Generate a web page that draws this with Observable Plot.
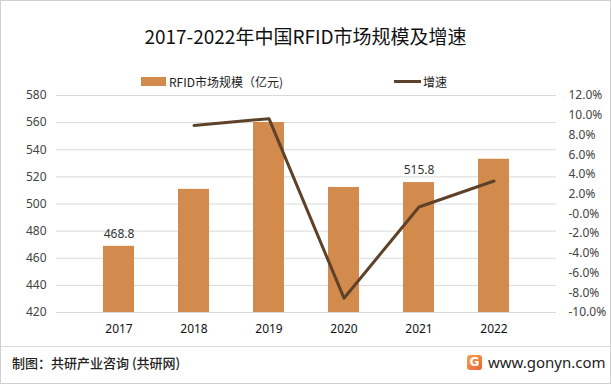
<!DOCTYPE html>
<html><head><meta charset="utf-8">
<script src="https://cdn.jsdelivr.net/npm/d3@7"></script>
<script src="https://cdn.jsdelivr.net/npm/@observablehq/plot@0.6"></script>
<style>
body{margin:0;background:#fff;}
#wrap{position:relative;width:609px;height:382px;border:1px solid #d0d0d0;font-family:"Noto Sans","Noto Sans CJK SC",sans-serif;color:#222;overflow:hidden;}
#title{position:absolute;left:0;width:609px;top:21px;text-align:center;font-size:19px;font-family:"Noto Sans CJK SC",sans-serif;color:#111;}
.leg{position:absolute;top:72px;font-size:12px;font-family:"Noto Sans CJK SC",sans-serif;color:#222;display:flex;align-items:center;}
#chart{position:absolute;left:0;top:60px;}
#sep{position:absolute;left:0;top:345px;width:609px;height:1px;background:#d8d8d8;}
#foot{position:absolute;left:11px;top:352px;font-size:13px;font-family:"Noto Sans CJK SC",sans-serif;color:#222;font-weight:500;}
#site{position:absolute;left:487px;top:351px;font-size:15px;color:#222;}
#logo{position:absolute;left:466px;top:354px;width:15px;height:15px;border-radius:3px;background:linear-gradient(135deg,#f9a64a,#e8603a);color:#fff;font-size:12px;font-weight:bold;line-height:15px;text-align:center;font-family:"DejaVu Sans",sans-serif;}
</style></head>
<body>
<div id="wrap">
  <div id="title">2017-2022年中国RFID市场规模及增速</div>
  <div class="leg" style="left:140px;"><span style="display:inline-block;width:25px;height:9px;background:#D38B4D;margin-right:3px;"></span>RFID市场规模（亿元)</div>
  <div class="leg" style="left:393px;"><span style="display:inline-block;width:27px;height:3px;background:#5E4129;margin-right:2px;"></span>增速</div>
  <div id="chart"></div>
  <div id="sep"></div>
  <div id="foot">制图：共研产业咨询 (共研网)</div>
  <div id="logo">G</div>
  <div id="site">www.gonyn.com</div>
</div>
<script>
const years = ["2017","2018","2019","2020","2021","2022"];
const marketSize = [468.8, 510.8, 560.1, 512.2, 515.8, 533.0];
const growth = [null, 8.96, 9.65, -8.55, 0.70, 3.33];
const labeledYears = ["2017","2021"];
const leftTicks = [420,440,460,480,500,520,540,560,580];
const rightTicks = [-10,-8,-6,-4,-2,0,2,4,6,8,10,12];

const leftDomain = [420, 580];
const rightDomain = [-10, 12];
const g2y = d3.scaleLinear().domain(rightDomain).range(leftDomain);

const bars = years.map((y, i) => ({year: y, value: marketSize[i]}));
const line = years.map((y, i) => ({year: y, g: growth[i]})).filter(d => d.g != null);
const labels = bars.filter(d => labeledYears.includes(d.year));

const font = `"Noto Sans","Noto Sans CJK SC",sans-serif`;
const plot = Plot.plot({
  width: 609, height: 280,
  marginTop: 34, marginBottom: 29, marginLeft: 55, marginRight: 54,
  style: {fontFamily: font, fontSize: "12px", color: "#333", background: "transparent"},
  x: {domain: years, padding: 0.59, label: null},
  y: {domain: leftDomain, label: null},
  marks: [
    Plot.gridY(leftTicks, {stroke: "#d9d9d9", strokeOpacity: 1, strokeWidth: 1}),
    Plot.barY(bars, {x: "year", y1: 420, y2: "value", fill: "#D38B4D"}),
    Plot.lineY(line, {x: "year", y: d => g2y(d.g), stroke: "#5E4129", strokeWidth: 3}),
    Plot.text(labels, {x: "year", y: "value", text: d => d.value.toFixed(1), dy: -12, fill: "#333", fontSize: 12}),
    Plot.axisY(leftTicks, {anchor: "left", tickSize: 0, tickPadding: 10, label: null, fill: "#444", fontSize: 12}),
    Plot.axisY(rightTicks.map(t => g2y(t)), {anchor: "right", tickSize: 0, tickPadding: 12, label: null, fill: "#444", fontSize: 12,
      tickFormat: v => g2y.invert(v).toFixed(1) + "%", textAnchor: "start"}),
    Plot.axisX({anchor: "bottom", tickSize: 0, tickPadding: 12, label: null, fill: "#111", fontSize: 12})
  ]
});
document.getElementById("chart").appendChild(plot);
</script>
</body></html>
